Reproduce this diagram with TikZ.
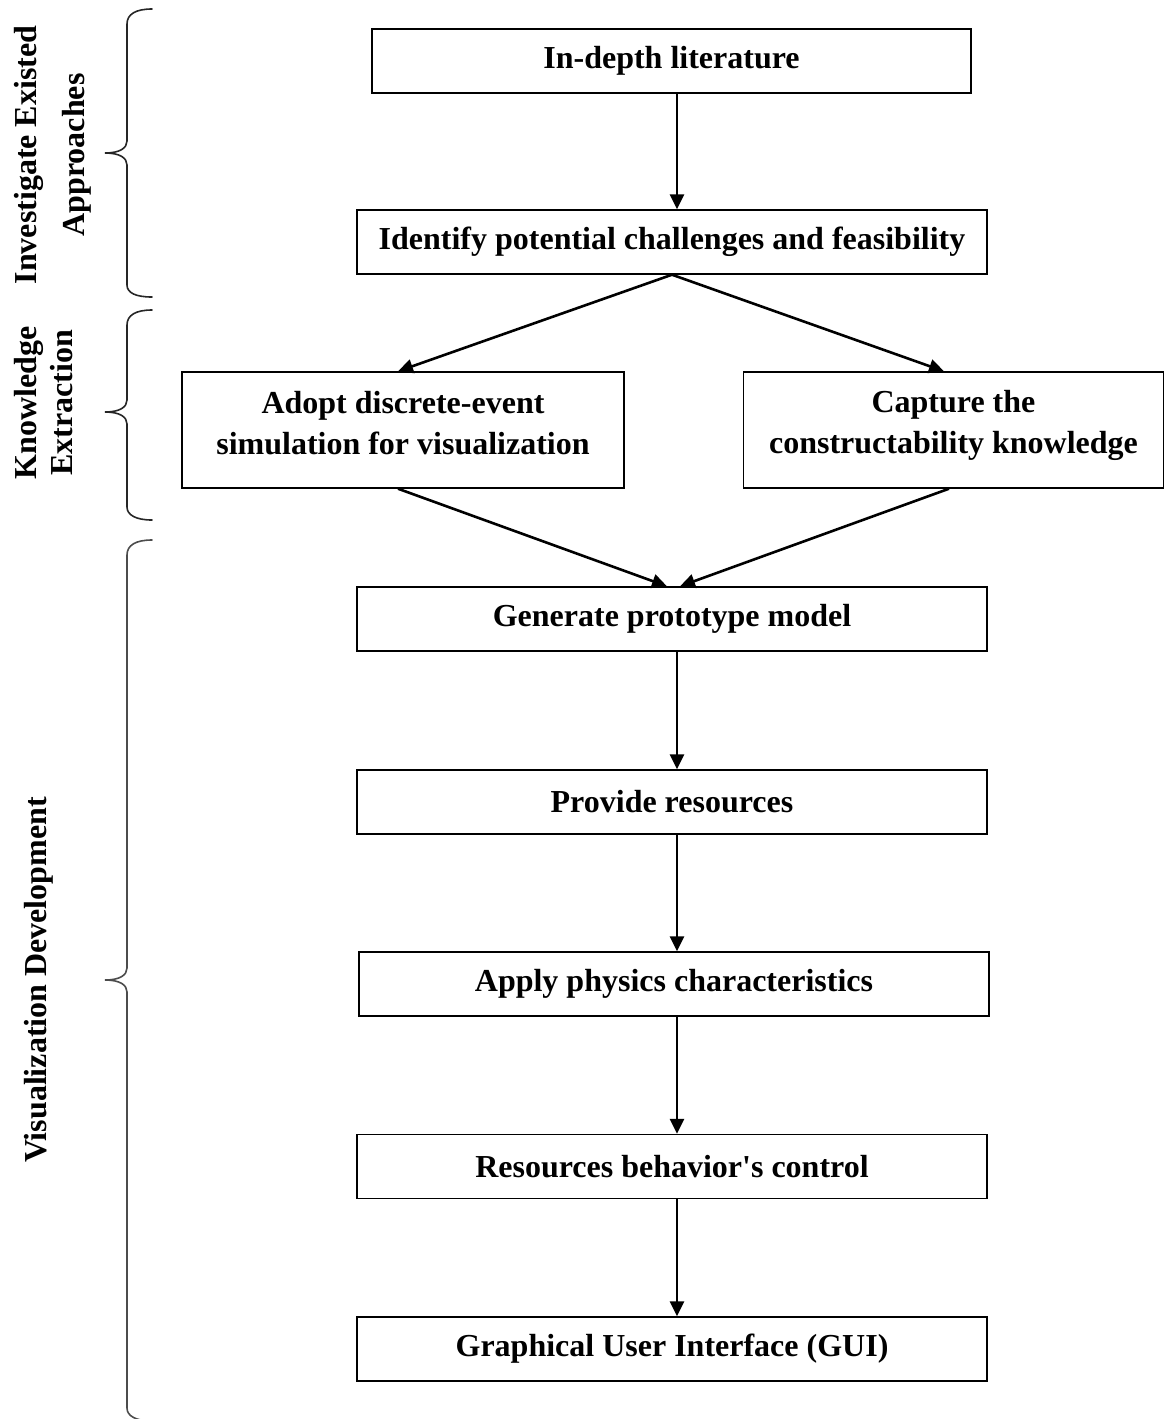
\documentclass[tikz,border=0pt]{standalone}
\usepackage{fontspec}
\setmainfont{Liberation Serif}
\usetikzlibrary{arrows.meta}
\begin{document}
\begin{tikzpicture}[x=0.5pt,y=-0.5pt,
  box/.style={draw, line width=0.7pt, inner sep=0pt, align=center,
    minimum width=315pt, minimum height=32pt,
    font=\bfseries\fontsize{16}{20.5}\selectfont},
  flow/.style={line width=1.3pt, -{Triangle[length=7.5pt,width=7pt]}},
  curlybrace/.style={line width=0.8pt, line cap=round, black!85},
  side/.style={rotate=90, inner sep=0pt, align=center}]
\useasboundingbox (0,0) rectangle (1165,1419);

% process boxes
\node[box, minimum width=299.5pt] (b1) at (671.5,61) {In-depth literature};
\node[box] (b2) at (672,242) {Identify potential challenges and feasibility};
\node[box, minimum width=221pt, minimum height=58pt, text depth=7pt] (b3) at (403,430)
  {Adopt discrete-event\\simulation for visualization};
\node[box, minimum width=210pt, minimum height=58pt, text depth=8.5pt] (b4) at (953.5,430)
  {Capture the\\constructability knowledge};
\node[box] (b5) at (672,619) {Generate prototype model};
\node[box] (b6) at (672,802) {Provide resources};
\node[box] (b7) at (674,984) {Apply physics characteristics};
\node[box] (b8) at (672,1166.5) {Resources behavior\textquotesingle s control};
\node[box] (b9) at (672,1349) {Graphical User Interface (GUI)};

% connectors
\draw[flow] ([xshift=2.75pt]b1.south) -- ([xshift=2.5pt]b2.north);
\draw[flow] (b2.south) -- ([xshift=-2.5pt]b3.north);
\draw[flow] (b2.south) -- ([xshift=-4.75pt]b4.north);
\draw[flow] ([xshift=-2.5pt]b3.south) -- ([xshift=-2.5pt]b5.north);
\draw[flow] ([xshift=-2.25pt]b4.south) -- ([xshift=4pt]b5.north);
\draw[flow] ([xshift=2.5pt]b5.south) -- ([xshift=2.5pt]b6.north);
\draw[flow] ([xshift=2.5pt]b6.south) -- ([xshift=1.5pt]b7.north);
\draw[flow] ([xshift=1.5pt]b7.south) -- ([xshift=2.5pt]b8.north);
\draw[flow] ([xshift=2.5pt]b8.south) -- ([xshift=2.5pt]b9.north);

% phase braces
\draw[curlybrace] (152,9) .. controls (136,9) and (127,14) .. (127,24)
  -- (127,141) .. controls (127,148) and (120,153) .. (105,153)
  .. controls (120,153) and (127,158) .. (127,165)
  -- (127,285) .. controls (127,293) and (136,297) .. (152,297);
\draw[curlybrace] (152,310) .. controls (136,310) and (127,315) .. (127,325)
  -- (127,400) .. controls (127,407) and (120,412) .. (105,412)
  .. controls (120,412) and (127,417) .. (127,424)
  -- (127,507) .. controls (127,515) and (136,520) .. (152,520);
\draw[curlybrace, black!70] (152,540) .. controls (136,540) and (127,545) .. (127,555)
  -- (127,968) .. controls (127,975) and (120,980) .. (105,980)
  .. controls (120,980) and (127,985) .. (127,992)
  -- (127,1408) .. controls (127,1416) and (136,1421) .. (152,1421);

% phase labels
\node[side, font=\bfseries\fontsize{16}{24}\selectfont] (l1) at (53,155)
  {Investigate Existed\\Approaches};
\node[side, font=\bfseries\fontsize{16}{18}\selectfont] (l2) at (44,403)
  {Knowledge\\Extraction};
\node[side, font=\bfseries\fontsize{16}{20}\selectfont] (l3) at (39,980)
  {Visualization Development};
\end{tikzpicture}
\end{document}
